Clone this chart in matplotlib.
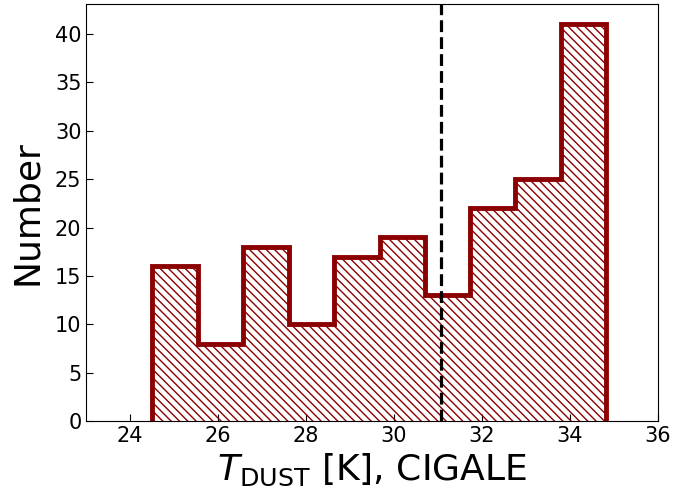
import numpy as np
import matplotlib
matplotlib.use("Agg")
import matplotlib.pyplot as plt

# Dust temperature histogram (CIGALE fits)
bin_edges = [24.50, 25.53, 26.57, 27.60, 28.63, 29.67, 30.70, 31.73, 32.76, 33.80, 34.83]
counts = [16, 8, 18, 10, 17, 19, 13, 22, 25, 41]
median_tdust = 31.07

x_ticks = [24, 26, 28, 30, 32, 34, 36]
y_ticks = [0, 5, 10, 15, 20, 25, 30, 35, 40]

fig = plt.figure(figsize=(6.74, 4.92), dpi=100)
ax = fig.add_axes([0.128, 0.144, 0.848, 0.847])

edges = np.array(bin_edges)
centers = 0.5 * (edges[:-1] + edges[1:])
ax.hist(centers, bins=edges, weights=counts, histtype="step",
        color="darkred", linewidth=3.5, hatch="\\\\\\\\")
ax.axvline(median_tdust, color="black", linestyle="--", linewidth=2.3)

ax.set_xlim(23, 36)
ax.set_xticks(x_ticks)
ax.set_yticks(y_ticks)
ax.tick_params(direction="in", labelsize=15, length=5, top=False, right=False)

ax.set_xlabel(r"$T_{\rm DUST}$ [K], CIGALE", fontsize=26)
ax.set_ylabel("Number", fontsize=26, labelpad=8)

fig.savefig("out.png", dpi=100)
